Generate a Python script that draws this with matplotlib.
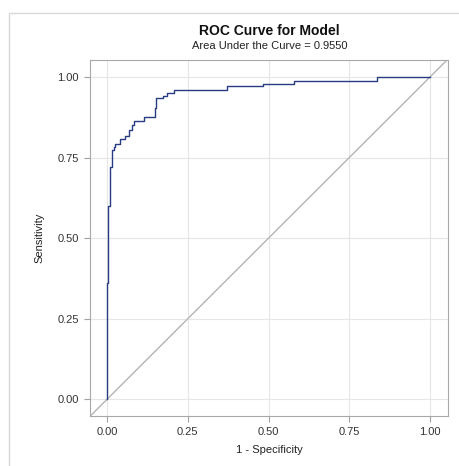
import matplotlib
matplotlib.use("Agg")
import matplotlib.pyplot as plt
from matplotlib.patches import Rectangle

plt.rcParams['font.family'] = ['Liberation Sans', 'DejaVu Sans']

# ROC curve points (1 - specificity, sensitivity)
fpr = [0.000, 0.000, 0.003, 0.003, 0.009, 0.009, 0.0145, 0.0145, 0.020, 0.020,
       0.025, 0.025, 0.039, 0.039, 0.055, 0.055, 0.068, 0.068, 0.077, 0.077,
       0.084, 0.084, 0.113, 0.113, 0.147, 0.147, 0.153, 0.153, 0.174, 0.174,
       0.184, 0.184, 0.206, 0.206, 0.371, 0.371, 0.482, 0.482, 0.578, 0.578,
       0.836, 0.836, 1.000]
tpr = [0.000, 0.360, 0.360, 0.600, 0.600, 0.721, 0.721, 0.773, 0.773, 0.782,
       0.782, 0.791, 0.791, 0.807, 0.807, 0.817, 0.817, 0.837, 0.837, 0.851,
       0.851, 0.863, 0.863, 0.875, 0.875, 0.903, 0.903, 0.934, 0.934, 0.941,
       0.941, 0.951, 0.951, 0.960, 0.960, 0.972, 0.972, 0.980, 0.980, 0.988,
       0.988, 1.000, 1.000]
auc = 0.9550
ticks = [0.0, 0.25, 0.5, 0.75, 1.0]
tick_labels = ["0.00", "0.25", "0.50", "0.75", "1.00"]

W, H = 459, 466
fig = plt.figure(figsize=(W / 100, H / 100), dpi=100)
fig.patch.set_facecolor('white')

# outer light frame (only left and top edges fall inside the image)
fig.patches.append(Rectangle((9 / W, -0.2), 1.2, 0.2 + (H - 13) / H,
                             transform=fig.transFigure, fill=False,
                             edgecolor='#d8d8d8', linewidth=1.0))

ax = fig.add_axes([90 / W, (H - 416) / H, (448 - 90) / W, (416 - 60) / H])
ax.set_xlim(-0.053, 1.056)
ax.set_ylim(-0.052, 1.053)

ax.grid(True, color='#e6e6e6', linewidth=0.8)
ax.set_axisbelow(True)
ax.axline((0, 0), (1, 1), color='#b4b4b4', linewidth=1.0)
ax.plot(fpr, tpr, color='#283c82', linewidth=1.0)

ax.set_xticks(ticks)
ax.set_xticklabels(tick_labels)
ax.set_yticks(ticks)
ax.set_yticklabels(tick_labels)
ax.tick_params(direction='out', length=4, width=0.8, color='#a0a0a0',
               labelsize=8, labelcolor='#333333', pad=4)
for s in ax.spines.values():
    s.set_color('#a8a8a8')
    s.set_linewidth(0.8)

ax.set_xlabel('1 - Specificity', fontsize=8, color='#222222', labelpad=6)
ax.set_ylabel('Sensitivity', fontsize=8, color='#222222', labelpad=9)

fig.text(269.5 / W, 1 - 31 / H, 'ROC Curve for Model', ha='center', va='center',
         fontsize=10, fontweight='bold', color='#111111')
fig.text(269.5 / W, 1 - 46 / H, 'Area Under the Curve = %.4f' % auc, ha='center',
         va='center', fontsize=8, color='#222222')

fig.savefig('out.png', dpi=100, facecolor='white')
